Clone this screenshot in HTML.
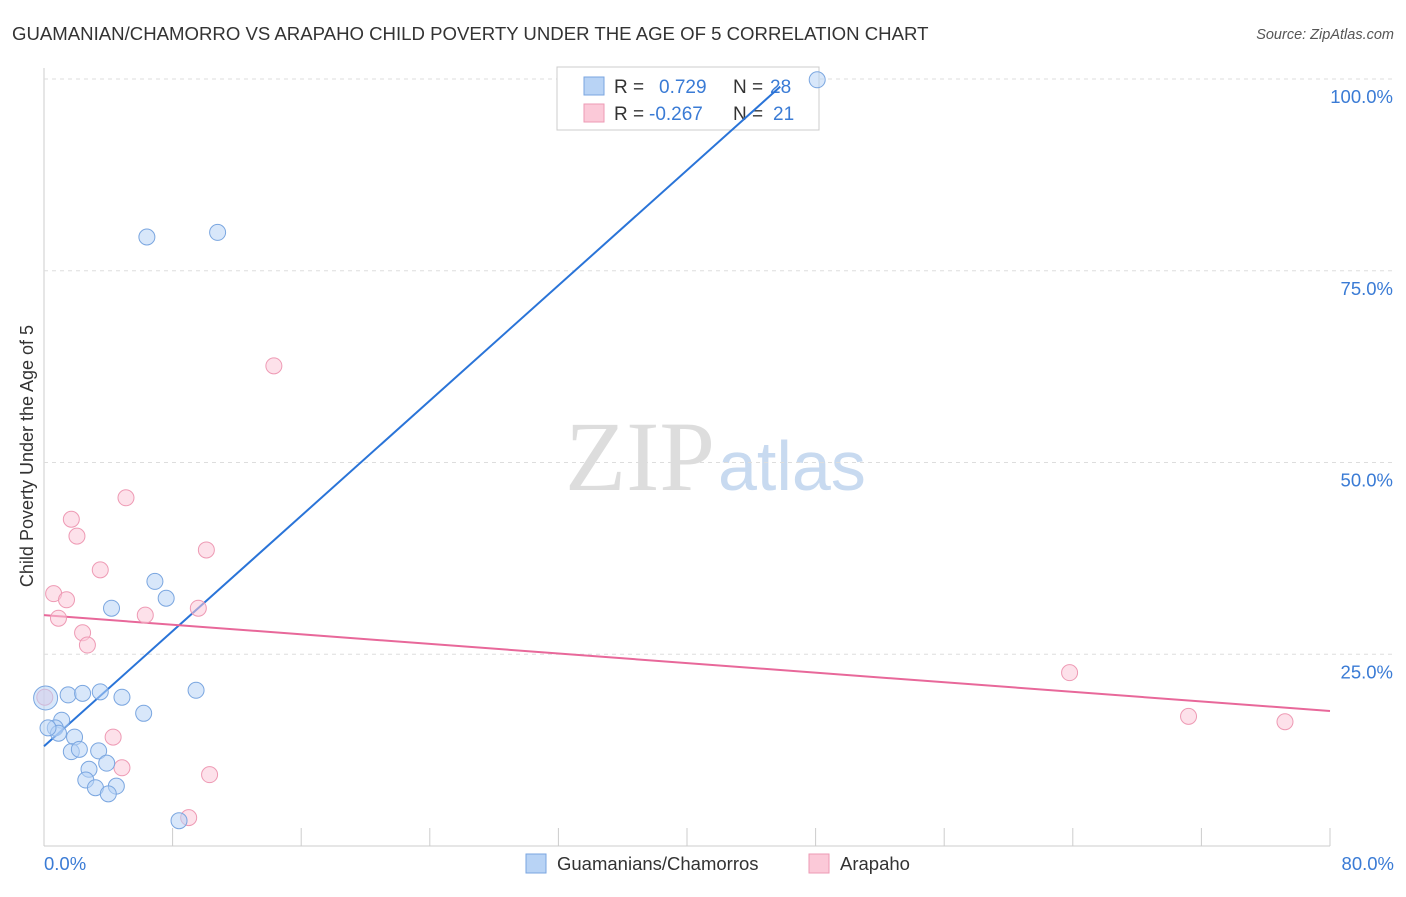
<!DOCTYPE html>
<html><head><meta charset="utf-8"><style>
body{margin:0;background:#fff;font-family:"Liberation Sans",sans-serif;}
</style></head><body>
<svg width="1406" height="892" id="chart" font-family="Liberation Sans, sans-serif">
<text x="12" y="40" font-size="18.6" fill="#333">GUAMANIAN/CHAMORRO VS ARAPAHO CHILD POVERTY UNDER THE AGE OF 5 CORRELATION CHART</text>
<text x="1394" y="39" font-size="14.5" fill="#555" font-style="italic" text-anchor="end">Source: ZipAtlas.com</text>
<text x="715" y="490" font-size="100" fill="#ddd" text-anchor="end" style="font-family:'Liberation Serif',serif">ZIP</text>
<text x="718" y="490" font-size="70" fill="#c8daf0">atlas</text>
<text transform="translate(33,456) rotate(-90)" font-size="18" fill="#333" text-anchor="middle">Child Poverty Under the Age of 5</text>
<g id="grid"></g>
<g>
<rect x="557" y="67" width="262" height="63" fill="#fff" stroke="#ccc"/>
<rect x="584" y="77" width="20" height="18" fill="#b8d3f5" stroke="#7aa6e0"/>
<rect x="584" y="104" width="20" height="18" fill="#fbc9d8" stroke="#ee9ab4"/>
<text x="614" y="93" font-size="19" fill="#333">R =</text><text x="659" y="93" font-size="19" fill="#3a7bd5">0.729</text>
<text x="733" y="93" font-size="19" fill="#333">N =</text><text x="770" y="93" font-size="19" fill="#3a7bd5">28</text>
<text x="614" y="120" font-size="19" fill="#333">R =</text><text x="649" y="120" font-size="19" fill="#3a7bd5">-0.267</text>
<text x="733" y="120" font-size="19" fill="#333">N =</text><text x="773" y="120" font-size="19" fill="#3a7bd5">21</text>
</g>
<g id="lines"></g><g id="pts"></g>
<g>
<rect x="526" y="854" width="20" height="19" fill="#b8d3f5" stroke="#7aa6e0"/>
<text x="557" y="870" font-size="18.5" fill="#333">Guamanians/Chamorros</text>
<rect x="809" y="854" width="20" height="19" fill="#fbc9d8" stroke="#ee9ab4"/>
<text x="840" y="870" font-size="18.5" fill="#333">Arapaho</text>
</g>
<text x="44" y="870" font-size="18.5" fill="#3a7bd5">0.0%</text>
<text x="1394" y="870" font-size="18.5" fill="#3a7bd5" text-anchor="end">80.0%</text>
</svg>
<script>
const yTicks=[25,50,75,100];
const yTickLabels=["25.0%","50.0%","75.0%","100.0%"];
const blueX=[48.1,6.4,10.8,6.9,7.6,4.2,9.46,0.1,1.5,2.4,3.5,4.85,6.2,1.1,0.7,0.9,1.9,1.7,2.2,3.4,3.9,2.8,2.6,3.2,4.5,4.0,8.4,0.25];
const blueY=[99.9,79.4,80.0,34.5,32.3,31.0,20.3,19.3,19.7,19.9,20.1,19.4,17.3,16.4,15.4,14.7,14.2,12.3,12.6,12.4,10.8,10.0,8.6,7.6,7.8,6.8,3.3,15.4];
const pinkX=[14.3,5.1,1.7,2.05,10.1,3.5,0.6,1.4,0.9,6.3,9.6,2.4,2.7,0.05,4.3,4.85,10.3,9.0,63.8,71.2,77.2];
const pinkY=[62.6,45.4,42.6,40.4,38.6,36.0,32.9,32.1,29.7,30.1,31.0,27.8,26.2,19.4,14.2,10.2,9.3,3.7,22.6,16.9,16.2];
const blueLine=[[0,13.0],[45.8,99.0]];
const pinkLine=[[0,30.1],[80,17.6]];
const NS="http://www.w3.org/2000/svg";
const xs=v=>44+v*16.075, ys=v=>846-v*7.67;
function mk(t,a,p){const e=document.createElementNS(NS,t);for(const k in a)e.setAttribute(k,a[k]);p.appendChild(e);return e;}
const g=document.getElementById('grid'),L=document.getElementById('lines'),P=document.getElementById('pts');
mk('line',{x1:44,y1:68,x2:44,y2:846,stroke:'#ccc'},g);
mk('line',{x1:44,y1:846,x2:1330,y2:846,stroke:'#ccc'},g);
for(let i=1;i<=10;i++){const l=mk('line',{x1:xs(i*8),x2:xs(i*8),y1:828,y2:846,stroke:'#ccc'},g);

}
yTicks.forEach((v,i)=>{const l=mk('line',{x1:44,x2:1394,y1:ys(v),y2:ys(v),stroke:'#ddd','stroke-dasharray':'4,4'},g);


const t=mk('text',{x:1393,y:ys(v)+24,'font-size':18.5,fill:'#3a7bd5','text-anchor':'end'},g);t.textContent=yTickLabels[i];

});
function pts(X,Y,f,s,n){X.forEach((x,i)=>{const c=mk('circle',{cx:xs(x),cy:ys(Y[i]),r:(n==='blue'&&i==7)?12:8,fill:f,'fill-opacity':0.55,stroke:s},P);

});}
pts(pinkX,pinkY,'#fbc9d8','#ee9ab4','pink');
pts(blueX,blueY,'#b8d3f5','#7aa6e0','blue');
const b=mk('line',{x1:xs(blueLine[0][0]),y1:ys(blueLine[0][1]),x2:xs(blueLine[1][0]),y2:ys(blueLine[1][1]),stroke:'#2a74d8','stroke-width':2},L);


const p=mk('line',{x1:xs(pinkLine[0][0]),y1:ys(pinkLine[0][1]),x2:xs(pinkLine[1][0]),y2:ys(pinkLine[1][1]),stroke:'#e8689a','stroke-width':2},L);


</script>
</body></html>
